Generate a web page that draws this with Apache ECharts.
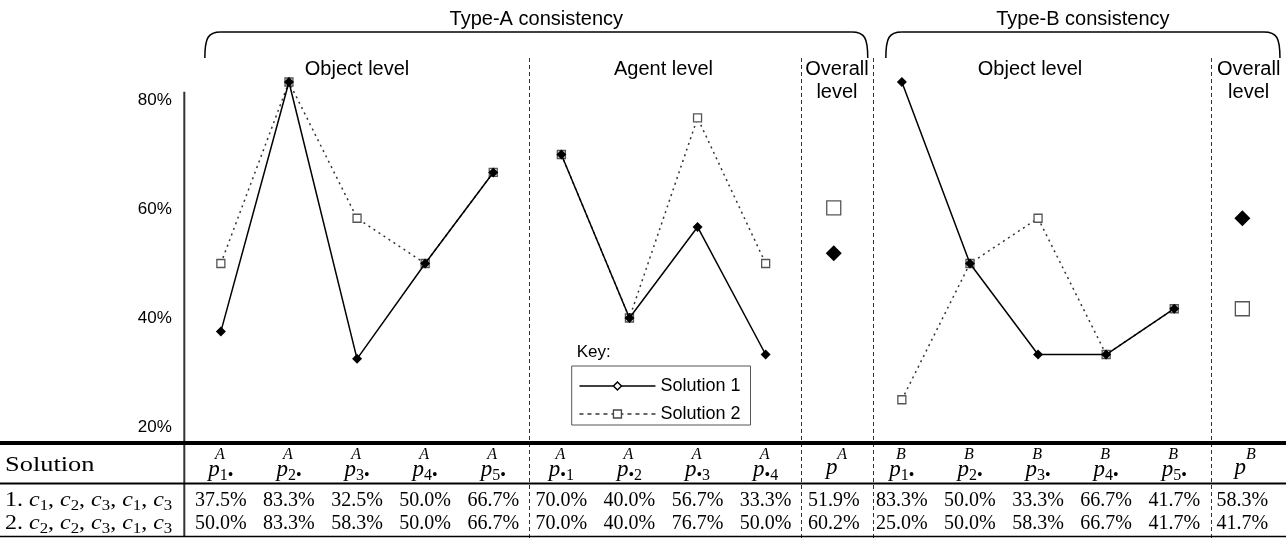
<!DOCTYPE html>
<html><head><meta charset="utf-8">
<script src="https://cdn.jsdelivr.net/npm/echarts@6/dist/echarts.min.js"></script>
<style>html,body{margin:0;padding:0;background:#fff}#c{width:1286px;height:538px}</style>
</head><body><div id="c"></div>
<script>
// ---- data ----
const categories = ['p1•A','p2•A','p3•A','p4•A','p5•A','p•1A','p•2A','p•3A','p•4A','pA','p1•B','p2•B','p3•B','p4•B','p5•B','pB'];
const catSub = ['1•','2•','3•','4•','5•','•1','•2','•3','•4','','1•','2•','3•','4•','5•',''];
const catSup = ['A','A','A','A','A','A','A','A','A','A','B','B','B','B','B','B'];
const sol1Plot = [37.5, 83.3, 32.5, 50.0, 66.7, 70.0, 40.0, 56.7, 33.3, 51.9, 83.3, 50.0, 33.3, 33.3, 41.7, 58.3];
const sol2Plot = [50.0, 83.3, 58.3, 50.0, 66.7, 70.0, 40.0, 76.7, 50.0, 60.2, 25.0, 50.0, 58.3, 33.3, 41.7, 41.7];
const sol1Table = [37.5, 83.3, 32.5, 50.0, 66.7, 70.0, 40.0, 56.7, 33.3, 51.9, 83.3, 50.0, 33.3, 66.7, 41.7, 58.3];
const sol2Table = [50.0, 83.3, 58.3, 50.0, 66.7, 70.0, 40.0, 76.7, 50.0, 60.2, 25.0, 50.0, 58.3, 66.7, 41.7, 41.7];
const sol1Assign = [1, 2, 3, 1, 3];
const sol2Assign = [2, 2, 3, 1, 3];
const yTicks = [20, 40, 60, 80];
const seriesNames = ['Solution 1', 'Solution 2'];
const groupFrom = [0, 5, 9, 10, 15];
const groupTo = [4, 8, 9, 14, 15];
const groupLabels = ['Object level', 'Agent level', 'Overall\nlevel', 'Object level', 'Overall\nlevel'];
const typeLabels = ['Type-A consistency', 'Type-B consistency'];

// ---- chart ----
const SANS = 'Liberation Sans', SERIF = 'Liberation Serif';
const chart = echarts.init(document.getElementById('c'));

function makeSeries(name, values, st) {
  return groupFrom.map((f, g) => {
    const big = f === groupTo[g];
    return {
      name, type: 'line',
      data: values.map((v, i) => (i >= f && i <= groupTo[g]) ? v : null),
      symbol: st.symbol, symbolSize: big ? st.big : st.size,
      showAllSymbol: true, clip: false, connectNulls: false,
      itemStyle: st.item, lineStyle: st.line,
      emphasis: { disabled: true }, silent: true, z: st.z
    };
  });
}

const series = [].concat(
  makeSeries(seriesNames[1], sol2Plot, {
    symbol: 'rect', size: 8, big: 14, z: 2,
    item: { color: '#fff', borderColor: '#555', borderWidth: 1.3 },
    line: { color: '#333', width: 1.5, type: [2, 4] }
  }),
  makeSeries(seriesNames[0], sol1Plot, {
    symbol: 'diamond', size: 10, big: 16, z: 3,
    item: { color: '#000', borderColor: '#000', borderWidth: 0 },
    line: { color: '#000', width: 1.5, type: 'solid' }
  })
);

const option = {
  animation: false,
  backgroundColor: '#fff',
  grid: { left: 186.8, right: 9.6, top: 91.8, bottom: 100.1, containLabel: false },
  xAxis: {
    type: 'category', data: categories, boundaryGap: true,
    axisLine: { show: false }, axisTick: { show: false }, axisLabel: { show: false }, splitLine: { show: false }
  },
  yAxis: {
    type: 'value', min: 18, max: 81.5,
    axisLine: { show: false }, axisTick: { show: false }, splitLine: { show: false },
    axisLabel: { customValues: yTicks, formatter: v => v + '%', fontSize: 17, fontFamily: SANS, color: '#000', margin: 15 }
  },
  legend: {
    data: [
      { name: seriesNames[0], itemStyle: { color: '#fff', borderColor: '#000', borderWidth: 1.5 }, lineStyle: { color: '#000', width: 1.5, type: 'solid' } },
      { name: seriesNames[1], itemStyle: { color: '#fff', borderColor: '#444', borderWidth: 1.3 }, lineStyle: { color: '#333', width: 1.3, type: [4, 4] } }
    ],
    orient: 'vertical', left: 571.7, top: 366,
    itemWidth: 76, itemHeight: 10, itemGap: 10,
    padding: [11, 10, 2, 7],
    borderColor: '#555', borderWidth: 1,
    selectedMode: false,
    textStyle: { fontSize: 18, fontFamily: SANS, color: '#000' }
  },
  series
};
chart.setOption(option);

// ---- decorations & table, positioned via the chart's own scales ----
const cx = i => chart.convertToPixel({ xAxisIndex: 0 }, i);
const cy = v => chart.convertToPixel({ yAxisIndex: 0 }, v);
const step = cx(1) - cx(0);
const between = (i, f) => cx(i) + f * step;
const seps = [between(4, 0.53), between(8, 0.52), between(9, 0.575), between(14, 0.545)];
const W = 1286;
const g = [];
const lineEl = (x1, y1, x2, y2, w, dash, color) => ({
  type: 'line', silent: true, z: 10,
  shape: { x1, y1, x2, y2 },
  style: { stroke: color || '#000', lineWidth: w, lineDash: dash || null }
});
const textEl = (x, y, text, font, align, extra, scaleX) => ({
  type: 'text', silent: true, z: 11, x, y, scaleX: scaleX || 1,
  style: Object.assign({ text, fill: '#000', font, align: align || 'center', verticalAlign: 'middle' }, extra || {})
});

// braces
function brace(x0, x1, yTop, yBot) {
  const r = 16;
  g.push({ type: 'bezierCurve', silent: true, z: 10,
    shape: { x1: x0, y1: yBot, cpx1: x0, cpy1: yTop + 6, cpx2: x0 + 3, cpy2: yTop, x2: x0 + r, y2: yTop },
    style: { stroke: '#000', lineWidth: 1.5, fill: null } });
  g.push(lineEl(x0 + r, yTop, x1 - r, yTop, 1.5));
  g.push({ type: 'bezierCurve', silent: true, z: 10,
    shape: { x1: x1, y1: yBot, cpx1: x1, cpy1: yTop + 6, cpx2: x1 - 3, cpy2: yTop, x2: x1 - r, y2: yTop },
    style: { stroke: '#000', lineWidth: 1.5, fill: null } });
}
const aL = cx(0) - 16, aR = cx(9) + 34, bL = cx(10) - 16, bR = cx(15) + 37.6;
brace(aL, aR, 32, 58);
brace(bL, bR, 32, 58);
g.push(textEl((aL + aR) / 2, 19, typeLabels[0], '20px ' + SANS));
g.push(textEl((bL + bR) / 2, 19, typeLabels[1], '20px ' + SANS));

// group labels
const grpX = [cx(2), (cx(6) + cx(7)) / 2, (seps[1] + seps[2]) / 2, cx(12) - 8, (seps[3] + W) / 2];
groupLabels.forEach((t, k) => {
  g.push(textEl(grpX[k], 57.5, t, '20px ' + SANS, 'center', { verticalAlign: 'top', lineHeight: 23 }));
});

// dashed separators
seps.forEach(x => g.push(lineEl(Math.round(x) + 0.5, 58, Math.round(x) + 0.5, 538, 1, [4, 3], '#333')));

// y axis line (extends through table)
g.push(lineEl(184.3, cy(81.5), 184.3, 536, 2, null, '#333'));

// table rules
g.push(lineEl(0, 443, W, 443, 4));
g.push(lineEl(0, 483.5, W, 483.5, 2));
g.push(lineEl(0, 536.5, W, 536.5, 1.5));

// table header
g.push(textEl(5, 465, 'Solution', '22px ' + SERIF, 'left', null, 1.2));
const richHead = {
  p: { fontFamily: SERIF, fontStyle: 'italic', fontSize: 23, fill: '#000' },
  s: { fontFamily: SERIF, fontSize: 16, fill: '#000', padding: [12, 0, 0, 0] }
};
categories.forEach((c, i) => {
  const x = cx(i);
  if (catSub[i]) {
    g.push(textEl(x, 470, '{p|p}{s|' + catSub[i] + '}', '23px ' + SERIF, 'center', { rich: richHead }));
    g.push(textEl(x - 1, 455, catSup[i], 'italic 16px ' + SERIF));
  } else {
    g.push(textEl(x - 2, 468, '{p|p}', '23px ' + SERIF, 'center', { rich: richHead }));
    g.push(textEl(x + 8.5, 455, catSup[i], 'italic 16px ' + SERIF));
  }
});

// row labels
const richRow = {
  n: { fontFamily: SERIF, fontSize: 20, fill: '#000' },
  c: { fontFamily: SERIF, fontStyle: 'italic', fontSize: 20, fill: '#000' },
  s: { fontFamily: SERIF, fontSize: 14, fill: '#000', padding: [10, 0, 0, 0] }
};
function rowLabel(num, assign) {
  return '{n|' + num + '. }' + assign.map(a => '{c|c}{s|' + a + '}').join('{n|, }');
}
g.push(textEl(5, 501, rowLabel(1, sol1Assign), '20px ' + SERIF, 'left', { rich: richRow }, 1.2));
g.push(textEl(5, 524, rowLabel(2, sol2Assign), '20px ' + SERIF, 'left', { rich: richRow }, 1.2));

// table values
categories.forEach((c, i) => {
  g.push(textEl(cx(i), 501, sol1Table[i].toFixed(1) + '%', '20px ' + SERIF));
  g.push(textEl(cx(i), 524, sol2Table[i].toFixed(1) + '%', '20px ' + SERIF));
});

// legend caption
g.push(textEl(576.7, 352, 'Key:', '17px ' + SANS, 'left'));

chart.setOption({ graphic: { elements: g } });
</script>
</body></html>
